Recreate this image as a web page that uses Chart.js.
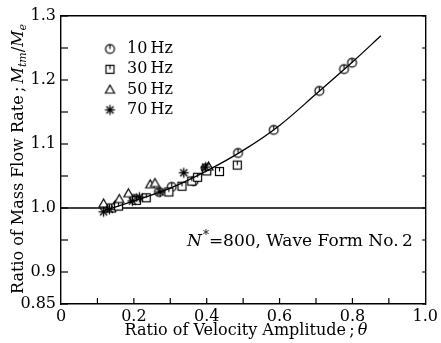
<!DOCTYPE html>
<html>
<head>
<meta charset="utf-8">
<script src="https://cdn.jsdelivr.net/npm/chart.js@4/dist/chart.umd.min.js"></script>
<style>
  html, body { margin: 0; padding: 0; background: #fff; }
  #wrap { width: 441px; height: 343px; position: relative; }
</style>
</head>
<body>
<div id="wrap"><canvas id="chart" width="441" height="343"></canvas></div>
<script>
// --- Data ---
const theta10 = [0.155, 0.201, 0.269, 0.304, 0.364, 0.397, 0.486, 0.584, 0.709, 0.777, 0.799];
const ratio10 = [1.005, 1.014, 1.025, 1.033, 1.042, 1.062, 1.086, 1.122, 1.183, 1.217, 1.227];

const theta30 = [0.139, 0.158, 0.207, 0.234, 0.296, 0.332, 0.359, 0.375, 0.400, 0.435, 0.484];
const ratio30 = [1.000, 1.003, 1.012, 1.016, 1.025, 1.034, 1.042, 1.048, 1.058, 1.057, 1.067];

const theta50 = [0.117, 0.160, 0.185, 0.245, 0.258, 0.405];
const ratio50 = [1.007, 1.014, 1.023, 1.037, 1.039, 1.065];

const theta70 = [0.117, 0.133, 0.196, 0.215, 0.272, 0.337, 0.397];
const ratio70 = [0.994, 0.998, 1.011, 1.017, 1.025, 1.055, 1.064];

const curveTheta = [0.12, 0.2, 0.3, 0.4, 0.5, 0.6, 0.7, 0.8, 0.878];
const curveRatio = [0.996, 1.011, 1.031, 1.058, 1.090, 1.129, 1.178, 1.228, 1.269];

const seriesLabels = ['10 Hz', '30 Hz', '50 Hz', '70 Hz'];
const xTicks = [0, 0.2, 0.4, 0.6, 0.8, 1.0];
const xMinorTicks = [0.1, 0.2, 0.3, 0.4, 0.5, 0.6, 0.7, 0.8, 0.9];
const yTicks = [0.85, 0.9, 0.95, 1.0, 1.05, 1.1, 1.15, 1.2, 1.25, 1.3];
const yLabelled = { 85: '0.85', 90: '0.9', 100: '1.0', 110: '1.1', 120: '1.2', 130: '1.3' };
const refLine = 1.0;

const SERIF = '"DejaVu Serif", serif';

// --- Marker images ---
function makeMarker(kind) {
    const c = document.createElement('canvas');
    c.width = 13; c.height = 13;
    const g = c.getContext('2d');
    g.strokeStyle = '#000';
    g.fillStyle = '#fff';
    g.lineWidth = 1.2;
    const m = 6.5;
    if (kind === 'circle') {
        g.beginPath(); g.arc(m, m, 4.4, 0, Math.PI * 2); g.fill(); g.stroke();
        g.beginPath(); g.moveTo(m, m - 4.4); g.lineTo(m, m); g.stroke();
    } else if (kind === 'square') {
        g.fillRect(2.5, 2.5, 8, 8); g.strokeRect(2.5, 2.5, 8, 8);
        g.beginPath(); g.moveTo(m, 2.5); g.lineTo(m, m); g.stroke();
    } else if (kind === 'triangle') {
        g.beginPath(); g.moveTo(m, 2); g.lineTo(11, 10); g.lineTo(2, 10); g.closePath();
        g.fill(); g.stroke();
    } else {
        g.lineWidth = 1.3;
        for (let i = 0; i < 4; i++) {
            const a = i * Math.PI / 4;
            g.beginPath();
            g.moveTo(m + 5 * Math.cos(a), m + 5 * Math.sin(a));
            g.lineTo(m - 5 * Math.cos(a), m - 5 * Math.sin(a));
            g.stroke();
        }
    }
    return c;
}
const markers = [makeMarker('circle'), makeMarker('square'), makeMarker('triangle'), makeMarker('star')];

const toPoints = (xs, ys) => xs.map((x, i) => ({ x: x, y: ys[i] }));

// --- Decorations: inward ticks, reference line, legend, note, axis titles ---
const decorations = {
    id: 'decorations',
    beforeDatasetsDraw(chart) {
        const { ctx, chartArea: a, scales: { x, y } } = chart;
        ctx.save();
        ctx.strokeStyle = '#000';
        ctx.lineWidth = 1.3;
        const yr = y.getPixelForValue(refLine);
        ctx.beginPath(); ctx.moveTo(a.left, yr); ctx.lineTo(a.right, yr); ctx.stroke();
        ctx.lineWidth = 1.2;
        yTicks.forEach(v => {
            const py = y.getPixelForValue(v);
            ctx.beginPath(); ctx.moveTo(a.left, py); ctx.lineTo(a.left + 7, py); ctx.stroke();
            ctx.beginPath(); ctx.moveTo(a.right, py); ctx.lineTo(a.right - 3, py); ctx.stroke();
        });
        xMinorTicks.forEach(v => {
            const px = x.getPixelForValue(v);
            ctx.beginPath(); ctx.moveTo(px, a.bottom); ctx.lineTo(px, a.bottom - 6); ctx.stroke();
        });
        ctx.restore();
    },
    afterDraw(chart) {
        const { ctx } = chart;
        ctx.save();
        ctx.fillStyle = '#000';
        ctx.textBaseline = 'middle';
        // legend
        ctx.font = '16px ' + SERIF;
        seriesLabels.forEach((lab, i) => {
            const cy = 49 + i * 20.3;
            ctx.drawImage(markers[i], 110 - 6.5, cy - 6.5);
            ctx.fillText(lab.replace(' ', '\u2009'), 127, cy);
        });
        // note
        ctx.font = 'italic 17px ' + SERIF;
        ctx.fillText('N', 187, 242);
        let nx = 187 + ctx.measureText('N').width;
        ctx.font = '12px ' + SERIF;
        ctx.fillText('*', nx + 1, 236);
        nx += ctx.measureText('*').width + 1;
        ctx.font = '17px ' + SERIF;
        ctx.fillText('=800, Wave Form No.\u20092', nx, 242);

        // x title
        ctx.font = '16px ' + SERIF;
        const xt = 'Ratio of Velocity Amplitude\u2009;\u2009';
        const w1 = ctx.measureText(xt).width;
        ctx.font = 'italic 16px ' + SERIF;
        const w2 = ctx.measureText('\u03b8').width;
        const sx = 246 - (w1 + w2) / 2;
        ctx.font = '16px ' + SERIF;
        ctx.fillText(xt, sx, 331);
        ctx.font = 'italic 16px ' + SERIF;
        ctx.fillText('\u03b8', sx + w1, 331);

        // y title (rotated)
        ctx.translate(19, 159);
        ctx.rotate(-Math.PI / 2);
        const parts = [
            ['Ratio of Mass Flow Rate\u2009;\u2009', '16px ', 0],
            ['M', 'italic 16px ', 0],
            ['tm', 'italic 11px ', 4],
            ['/', '16px ', 0],
            ['M', 'italic 16px ', 0],
            ['e', 'italic 11px ', 4]
        ];
        let total = 0;
        parts.forEach(p => { ctx.font = p[1] + SERIF; total += ctx.measureText(p[0]).width; });
        let px = -total / 2;
        parts.forEach(p => {
            ctx.font = p[1] + SERIF;
            ctx.fillText(p[0], px, p[2]);
            px += ctx.measureText(p[0]).width;
        });
        ctx.restore();
    }
};

const pointSet = (label, xs, ys, img) => ({
    label: label,
    data: toPoints(xs, ys),
    showLine: false,
    pointStyle: img,
    pointRadius: 6,
    pointHoverRadius: 6
});

new Chart(document.getElementById('chart'), {
    type: 'scatter',
    data: {
        datasets: [
            {
                label: 'fit',
                data: toPoints(curveTheta, curveRatio),
                showLine: true,
                borderColor: '#000',
                borderWidth: 1.3,
                pointRadius: 0,
                tension: 0.4,
                cubicInterpolationMode: 'monotone'
            },
            pointSet(seriesLabels[3], theta70, ratio70, markers[3]),
            pointSet(seriesLabels[2], theta50, ratio50, markers[2]),
            pointSet(seriesLabels[1], theta30, ratio30, markers[1]),
            pointSet(seriesLabels[0], theta10, ratio10, markers[0])
        ]
    },
    options: {
        responsive: false,
        animation: false,
        devicePixelRatio: 1,
        layout: { padding: { left: 0, right: 12, top: 16, bottom: 0 } },
        plugins: { legend: { display: false }, tooltip: { enabled: false } },
        scales: {
            x: {
                type: 'linear',
                min: 0, max: 1,
                afterBuildTicks: s => { s.ticks = xTicks.map(v => ({ value: v })); },
                afterFit: s => { s.height = 39; },
                grid: { display: false, drawTicks: false },
                border: { display: true, color: '#000', width: 1.4 },
                ticks: {
                    padding: 3,
                    color: '#000',
                    font: { family: SERIF, size: 16 },
                    maxRotation: 0,
                    callback: v => (v === 0 ? '0' : v.toFixed(1))
                }
            },
            y: {
                type: 'linear',
                min: 0.85, max: 1.3,
                afterBuildTicks: s => { s.ticks = yTicks.map(v => ({ value: v })); },
                afterFit: s => { s.width = 61; },
                grid: { display: false, drawTicks: false },
                border: { display: true, color: '#000', width: 1.4 },
                ticks: {
                    padding: 5,
                    color: '#000',
                    font: { family: SERIF, size: 16 },
                    autoSkip: false,
                    callback: v => yLabelled[Math.round(v * 100)] || ''
                }
            },
            x2: {
                type: 'linear', position: 'top', min: 0, max: 1,
                afterFit: s => { s.height = 0; },
                grid: { display: false, drawTicks: false },
                border: { display: true, color: '#000', width: 1.4 },
                ticks: { display: false }
            },
            y2: {
                type: 'linear', position: 'right', min: 0.85, max: 1.3,
                afterFit: s => { s.width = 0; },
                grid: { display: false, drawTicks: false },
                border: { display: true, color: '#000', width: 1.4 },
                ticks: { display: false }
            }
        }
    },
    plugins: [decorations]
});
</script>
</body>
</html>
